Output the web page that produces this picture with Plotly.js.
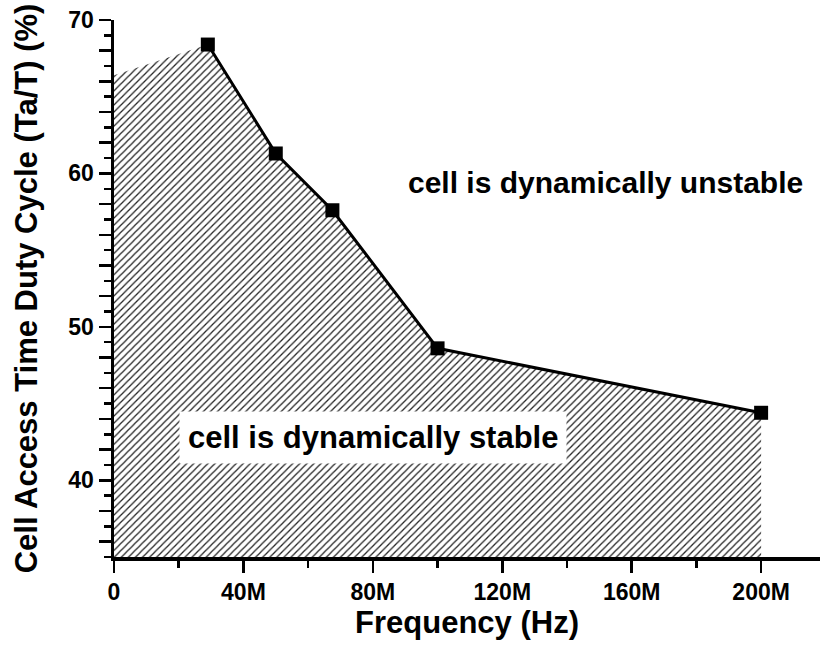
<!DOCTYPE html>
<html>
<head>
<meta charset="utf-8">
<script src="https://cdn.plot.ly/plotly-3.0.1.min.js"></script>
<style>
html, body { margin: 0; padding: 0; background: #fff; }
#chart { width: 820px; height: 645px; }
</style>
</head>
<body>
<div id="chart"></div>
<script>
// Measured points (frequency in Hz, duty cycle in %)
const freqHz = [29e6, 50e6, 67.5e6, 100e6, 200e6];
const dutyCycle = [68.4, 61.3, 57.6, 48.6, 44.4];
// Stable-region boundary starts at 0 Hz
const boundaryStartHz = 0;
const boundaryStartDuty = 66.4;

const xTickVals = [0, 40e6, 80e6, 120e6, 160e6, 200e6];
const xTickText = ['0', '40M', '80M', '120M', '160M', '200M'];
const yTickVals = [36, 38, 40, 42, 44, 46, 48, 50, 52, 54, 56, 58, 60, 62, 64, 66, 68, 70];
const yTickText = ['', '', '40', '', '', '', '', '50', '', '', '', '', '60', '', '', '', '', '70'];

const fontFam = '"Liberation Sans", Arial, sans-serif';
const bold = s => (s === '' ? '' : '<b>' + s + '</b>');

const traces = [
  {
    x: [boundaryStartHz].concat(freqHz),
    y: [boundaryStartDuty].concat(dutyCycle),
    type: 'scatter',
    mode: 'lines',
    line: { width: 0, color: 'rgba(0,0,0,0)' },
    fill: 'tozeroy',
    fillcolor: 'white',
    fillpattern: { shape: '/', size: 5, solidity: 0.25, fgcolor: '#222', bgcolor: 'white' },
    hoverinfo: 'skip',
    showlegend: false
  },
  {
    x: freqHz,
    y: dutyCycle,
    type: 'scatter',
    mode: 'lines+markers',
    line: { color: 'black', width: 3 },
    marker: { symbol: 'square', size: 14, color: 'black' },
    showlegend: false
  }
];

const layout = {
  width: 820,
  height: 645,
  margin: { l: 114, r: 0, t: 20, b: 88 },
  paper_bgcolor: 'white',
  plot_bgcolor: 'white',
  font: { family: fontFam, color: 'black' },
  showlegend: false,
  xaxis: {
    range: [0, 218.2e6],
    showgrid: false,
    zeroline: false,
    showline: true,
    linecolor: 'black',
    linewidth: 3.5,
    ticks: 'outside',
    ticklen: 12,
    tickwidth: 2.5,
    tickcolor: 'black',
    tickvals: xTickVals,
    ticktext: xTickText.map(bold),
    tickfont: { family: fontFam, size: 23, color: 'black' },
    minor: { dtick: 20e6, tick0: 0, ticks: 'outside', ticklen: 7, tickwidth: 2.5, tickcolor: 'black', showgrid: false },
    title: { text: '<b>Frequency (Hz)</b>', font: { family: fontFam, size: 31, color: 'black' }, standoff: 6 },
    automargin: false
  },
  yaxis: {
    range: [35, 70],
    showgrid: false,
    zeroline: false,
    showline: true,
    linecolor: 'black',
    linewidth: 3.5,
    ticks: 'outside',
    ticklen: 12,
    tickwidth: 2.5,
    tickcolor: 'black',
    tickvals: yTickVals,
    ticktext: yTickText.map(bold),
    tickfont: { family: fontFam, size: 23, color: 'black' },
    minor: { dtick: 1, tick0: 35, ticks: 'outside', ticklen: 7, tickwidth: 2.5, tickcolor: 'black', showgrid: false },
    title: { text: '<b>Cell Access Time Duty Cycle (Ta/T) (%)</b>', font: { family: fontFam, size: 31, color: 'black' }, standoff: 22 },
    automargin: false
  },
  annotations: [
    {
      x: 152e6, y: 59.4, xref: 'x', yref: 'y',
      text: '<b>cell is dynamically unstable</b>',
      showarrow: false,
      font: { family: fontFam, size: 30, color: 'black' }
    },
    {
      x: 80e6, y: 42.8, xref: 'x', yref: 'y',
      text: '<b>cell is dynamically stable</b>',
      showarrow: false,
      bgcolor: 'white',
      borderpad: 8,
      font: { family: fontFam, size: 31, color: 'black' }
    }
  ]
};

Plotly.newPlot('chart', traces, layout, { displayModeBar: false, staticPlot: true });
</script>
</body>
</html>
